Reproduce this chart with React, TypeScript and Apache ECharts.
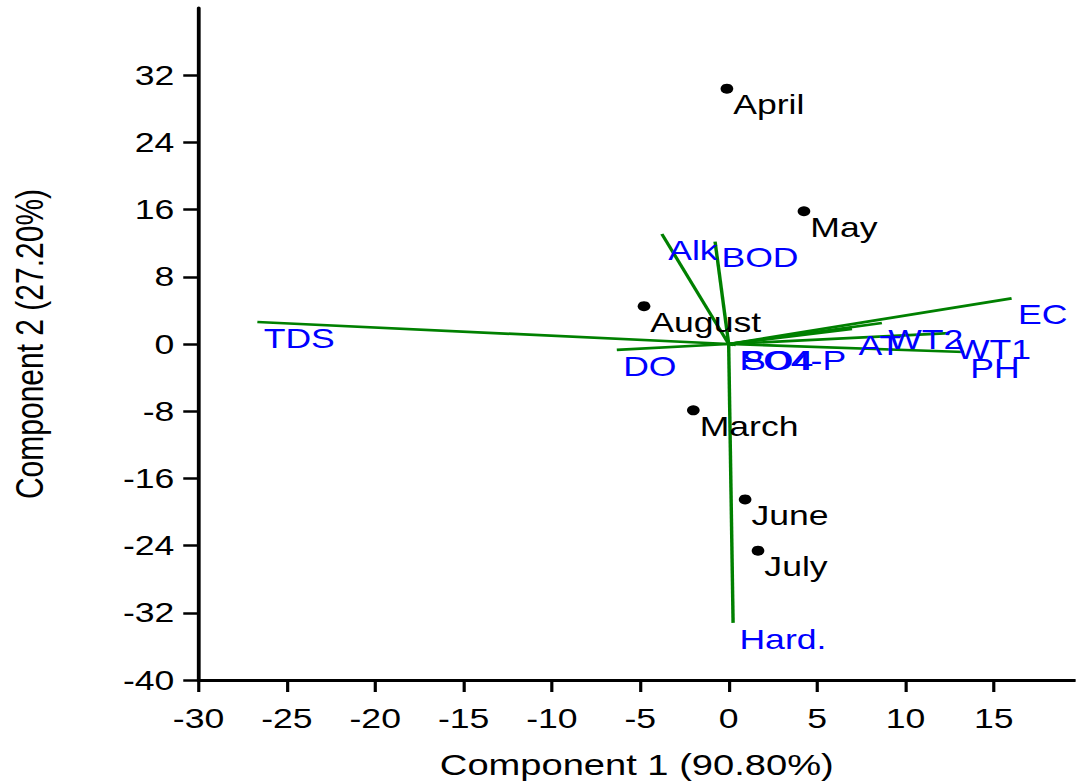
import React, { useEffect, useRef } from "react";
import * as echarts from "echarts";

// Sample scores (months)
const months = ["April", "May", "August", "March", "June", "July"];
const monthPC1 = [-0.1, 4.26, -4.79, -2.0, 0.93, 1.66];
const monthPC2 = [30.4, 15.8, 4.5, -7.9, -18.5, -24.6];

// Variable loadings (biplot vectors)
const variables = ["TDS", "DO", "Alk", "BOD", "Hard.", "PO4-P", "SO4", "AT", "WT2", "WT1", "PH", "EC"];
const loadPC1 = [-26.67, -6.33, -3.78, -0.77, 0.25, 0.25, 0.4, 6.98, 8.67, 12.5, 13.31, 16.01];
const loadPC2 = [2.62, -0.71, 13.1, 12.2, -33.2, -0.1, -0.1, 1.79, 2.5, 1.3, -0.95, 5.44];

// Axis ticks
const xTicks = [-30, -25, -20, -15, -10, -5, 0, 5, 10, 15];
const yTicks = [-40, -32, -24, -16, -8, 0, 8, 16, 24, 32];

const STRETCH = 1.27;
const W = 1076 / STRETCH;
const H = 784;
const FONT = "'Liberation Sans', Arial, sans-serif";

export default function App() {
  const ref = useRef<HTMLDivElement>(null);
  useEffect(() => {
    if (!ref.current) return;
    const chart = echarts.init(ref.current, undefined, { renderer: "svg" });
    const axisCommon = {
      axisLine: { show: true, onZero: false, lineStyle: { color: "#000", width: 3 } },
      splitLine: { show: false },
      nameTextStyle: { fontFamily: FONT, fontSize: 30, color: "#000" },
    };
    chart.setOption({
      animation: false,
      backgroundColor: "#fff",
      grid: { left: 156.3, right: 0.5, top: 8, bottom: 103, containLabel: false },
      xAxis: {
        type: "value",
        min: -30,
        max: 19.6,
        interval: 5,
        name: "Component 1 (90.80%)",
        nameLocation: "middle",
        nameGap: 69,
        ...axisCommon,
        axisTick: { show: true, length: 12, inside: false, lineStyle: { color: "#000", width: 2.5 }, customValues: xTicks },
        axisLabel: { fontFamily: FONT, fontSize: 28, color: "#000", margin: 24, customValues: xTicks },
      },
      yAxis: {
        type: "value",
        min: -40,
        max: 40,
        interval: 8,
        name: "Component 2 (27.20%)",
        nameLocation: "middle",
        nameGap: 118,
        ...axisCommon,
        axisTick: { show: true, length: 12, inside: false, lineStyle: { color: "#000", width: 2.5 }, customValues: yTicks },
        axisLabel: { fontFamily: FONT, fontSize: 28, color: "#000", margin: 19, customValues: yTicks },
      },
      series: [
        {
          type: "lines",
          coordinateSystem: "cartesian2d",
          silent: true,
          z: 2,
          lineStyle: { color: "#008000", width: 2.7, opacity: 1 },
          data: variables.map((v, i) => ({ name: v, coords: [[0, 0], [loadPC1[i], loadPC2[i]]] })),
        },
        {
          type: "scatter",
          z: 3,
          symbolSize: 0,
          itemStyle: { opacity: 1 },
          data: variables.map((v, i) => ({ name: v, value: [loadPC1[i], loadPC2[i]] })),
          label: {
            show: true,
            position: "right",
            distance: 5,
            offset: [0, 16],
            formatter: (p: any) => p.name,
            fontFamily: FONT,
            fontSize: 28,
            color: "#0000FF",
          },
        },
        {
          type: "scatter",
          z: 4,
          symbol: "circle",
          symbolSize: 10,
          itemStyle: { color: "#000", opacity: 1 },
          data: months.map((m, i) => ({ name: m, value: [monthPC1[i], monthPC2[i]] })),
          label: {
            show: true,
            position: "right",
            distance: 0,
            offset: [0, 16],
            formatter: (p: any) => p.name,
            fontFamily: FONT,
            fontSize: 28,
            color: "#000",
          },
        },
      ],
    });
    return () => chart.dispose();
  }, []);
  return (
    <div
      ref={ref}
      style={{
        position: "absolute",
        left: 0,
        top: 0,
        width: W + "px",
        height: H + "px",
        transform: `scaleX(${STRETCH})`,
        transformOrigin: "0 0",
      }}
    />
  );
}
